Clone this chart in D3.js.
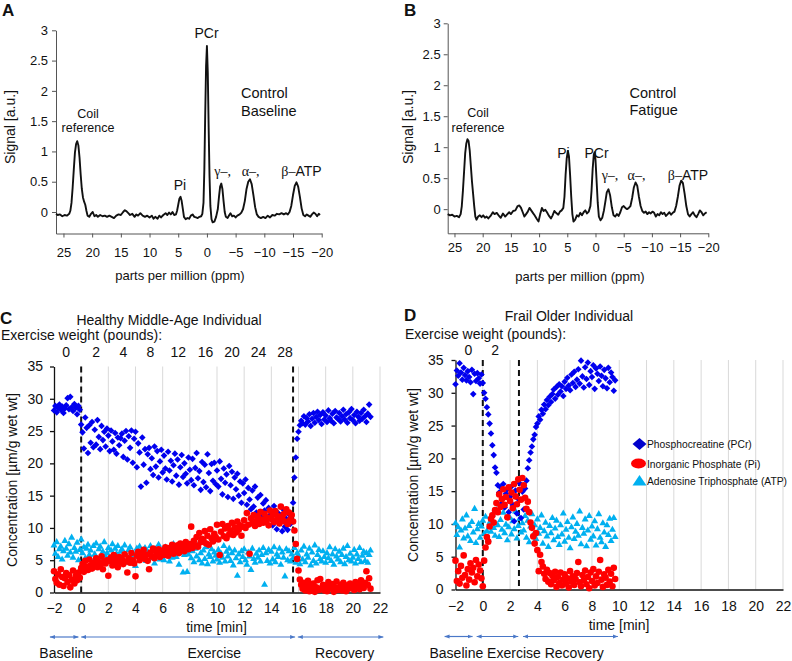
<!DOCTYPE html>
<html><head><meta charset="utf-8">
<script src="https://cdn.jsdelivr.net/npm/d3@7"></script>
<style>
body{margin:0;background:#fff}
svg{display:block}
text{font-family:"Liberation Sans",Arial,sans-serif;fill:#111}
</style></head>
<body><svg id="fig" width="792" height="661"></svg>
<script>
// ---------------- DATA ----------------
// Panel A / B: 31P spectra, [ppm, signal a.u.]
const spectrumA = [[26.3,-0.03],[26.0,-0.05],[25.6,-0.04],[25.2,-0.07],[24.8,-0.05],[24.4,-0.06],[24.0,-0.03],[23.8,0.02],[23.6,0.15],[23.4,0.40],[23.2,0.70],[23.0,0.98],[22.8,1.12],[22.6,1.17],[22.4,1.10],[22.2,0.90],[22.0,0.62],[21.8,0.38],[21.6,0.24],[21.4,0.17],[21.2,0.12],[21.0,0.02],[20.8,-0.06],[20.5,-0.08],[20.2,-0.03],[19.9,0.0],[19.6,-0.07],[19.3,-0.05],[19.0,-0.08],[18.6,-0.05],[18.2,-0.07],[17.8,-0.06],[17.4,-0.08],[17.0,-0.06],[16.6,-0.08],[16.2,-0.10],[15.8,-0.06],[15.4,-0.04],[15.0,-0.05],[14.6,0.0],[14.3,0.03],[14.0,0.01],[13.7,-0.02],[13.4,-0.05],[13.0,-0.03],[12.6,-0.08],[12.3,-0.04],[12.0,-0.06],[11.6,-0.02],[11.2,-0.06],[10.8,-0.08],[10.4,-0.06],[10.0,-0.09],[9.6,-0.06],[9.3,-0.11],[9.0,-0.08],[8.6,-0.11],[8.3,-0.06],[8.0,-0.09],[7.6,-0.05],[7.2,-0.02],[6.9,-0.05],[6.6,-0.01],[6.3,-0.04],[6.0,0.0],[5.7,-0.05],[5.4,-0.04],[5.2,0.02],[5.0,0.12],[4.8,0.22],[4.6,0.25],[4.4,0.18],[4.2,0.05],[4.0,-0.08],[3.7,-0.12],[3.4,-0.10],[3.1,-0.11],[2.8,-0.06],[2.5,-0.04],[2.2,-0.08],[1.9,-0.09],[1.6,-0.10],[1.3,-0.08],[1.0,-0.07],[0.8,-0.03],[0.6,0.15],[0.45,0.7],[0.3,1.6],[0.15,2.4],[0.0,2.74],[-0.15,2.3],[-0.3,1.4],[-0.45,0.6],[-0.6,0.1],[-0.8,-0.12],[-1.0,-0.17],[-1.3,-0.16],[-1.6,-0.08],[-1.9,0.05],[-2.1,0.25],[-2.3,0.42],[-2.5,0.47],[-2.7,0.38],[-2.9,0.18],[-3.1,0.0],[-3.3,-0.08],[-3.6,-0.1],[-3.9,-0.05],[-4.1,-0.02],[-4.4,-0.07],[-4.7,-0.06],[-5.0,-0.09],[-5.3,-0.06],[-5.7,-0.04],[-6.0,-0.01],[-6.3,0.05],[-6.6,0.18],[-6.9,0.38],[-7.2,0.50],[-7.5,0.54],[-7.8,0.46],[-8.1,0.28],[-8.4,0.08],[-8.7,-0.04],[-9.0,-0.08],[-9.4,-0.1],[-9.8,-0.08],[-10.2,-0.1],[-10.6,-0.06],[-11.0,-0.09],[-11.4,-0.05],[-11.8,-0.06],[-12.2,-0.03],[-12.6,-0.04],[-13.0,-0.02],[-13.4,-0.04],[-13.8,-0.02],[-14.1,-0.04],[-14.4,0.0],[-14.7,0.1],[-15.0,0.28],[-15.3,0.43],[-15.6,0.49],[-15.9,0.42],[-16.2,0.25],[-16.5,0.06],[-16.8,-0.05],[-17.1,-0.07],[-17.4,-0.04],[-17.7,-0.06],[-18.0,-0.08],[-18.3,-0.04],[-18.6,-0.01],[-18.9,-0.03],[-19.2,-0.07],[-19.5,-0.03],[-19.7,-0.05]];
const spectrumB = [[26.2,-0.08],[25.8,-0.10],[25.4,-0.09],[25.0,-0.12],[24.6,-0.11],[24.2,-0.13],[23.9,-0.08],[23.7,0.05],[23.5,0.3],[23.3,0.6],[23.1,0.9],[22.9,1.06],[22.7,1.13],[22.5,1.1],[22.3,0.95],[22.1,0.7],[21.9,0.45],[21.7,0.25],[21.5,0.05],[21.3,-0.12],[21.1,-0.17],[20.8,-0.12],[20.5,-0.1],[20.2,-0.13],[19.9,-0.1],[19.6,-0.14],[19.3,-0.12],[19.0,-0.15],[18.6,-0.11],[18.2,-0.05],[17.9,-0.08],[17.5,-0.06],[17.1,-0.11],[16.8,-0.14],[16.4,-0.07],[16.0,-0.12],[15.7,-0.09],[15.3,-0.05],[15.0,-0.08],[14.6,-0.03],[14.2,-0.02],[13.8,0.05],[13.5,0.06],[13.2,0.02],[12.9,-0.05],[12.6,-0.12],[12.3,-0.08],[12.0,-0.04],[11.7,0.02],[11.4,-0.02],[11.1,-0.06],[10.8,-0.1],[10.4,-0.16],[10.1,-0.2],[9.8,-0.08],[9.5,0.02],[9.2,-0.03],[8.9,-0.01],[8.6,-0.05],[8.3,-0.1],[7.9,-0.15],[7.6,-0.1],[7.3,-0.03],[7.0,-0.06],[6.6,-0.09],[6.3,-0.04],[6.0,-0.02],[5.7,0.02],[5.5,0.2],[5.3,0.55],[5.1,0.82],[4.9,0.94],[4.7,0.85],[4.5,0.55],[4.3,0.2],[4.1,-0.08],[3.9,-0.2],[3.6,-0.17],[3.3,-0.1],[3.0,-0.12],[2.7,-0.06],[2.4,-0.1],[2.1,-0.05],[1.8,-0.02],[1.5,-0.07],[1.2,-0.04],[0.9,0.05],[0.7,0.3],[0.5,0.65],[0.3,0.88],[0.15,0.92],[0.0,0.8],[-0.2,0.45],[-0.4,0.1],[-0.6,-0.12],[-0.9,-0.18],[-1.2,-0.14],[-1.5,-0.02],[-1.8,0.15],[-2.0,0.27],[-2.3,0.32],[-2.6,0.22],[-2.9,0.03],[-3.2,-0.1],[-3.5,-0.12],[-3.8,-0.08],[-4.1,-0.11],[-4.4,-0.05],[-4.7,0.03],[-5.0,0.05],[-5.3,0.02],[-5.6,0.0],[-5.9,0.02],[-6.2,0.05],[-6.5,0.18],[-6.8,0.35],[-7.1,0.43],[-7.4,0.38],[-7.7,0.2],[-8.0,0.05],[-8.3,-0.03],[-8.6,-0.06],[-8.9,-0.04],[-9.2,-0.08],[-9.5,-0.05],[-9.8,-0.07],[-10.1,-0.04],[-10.4,-0.06],[-10.7,-0.12],[-11.0,-0.08],[-11.3,-0.1],[-11.6,-0.05],[-11.9,-0.08],[-12.2,-0.06],[-12.5,-0.11],[-12.8,-0.08],[-13.1,-0.05],[-13.4,-0.09],[-13.7,-0.06],[-14.0,-0.04],[-14.3,0.05],[-14.6,0.2],[-14.9,0.38],[-15.2,0.46],[-15.5,0.42],[-15.8,0.25],[-16.1,0.05],[-16.4,-0.08],[-16.7,-0.12],[-17.0,-0.08],[-17.3,-0.05],[-17.6,-0.1],[-17.9,-0.13],[-18.2,-0.08],[-18.5,-0.02],[-18.8,-0.05],[-19.1,-0.1],[-19.4,-0.07],[-19.7,-0.05]];
const ppmTicks = [25,20,15,10,5,0,-5,-10,-15,-20];
const signalTicks = [0,0.5,1,1.5,2,2.5,3];

// Panel C / D: metabolite concentrations sampled every 0.1 min starting at -2 min
const sampleStart = -2, sampleStep = 0.1;
const pcrC = [28.2,28.9,27.9,28.6,29.1,28.3,28.8,27.8,28.5,29.0, 30.1,28.4,30.3,28.7,28.1,29.2,28.6,27.6,28.9,28.3,
 26.0,24.8,22.3,27.1,25.5,21.6,25.9,23.2,26.4,22.5, 25.2,22.9,26.7,24.1,22.2,25.8,23.6,24.9,22.6,25.4,
 24.3,21.9,25.1,23.4,22.1,24.7,21.5,24.0,22.8,23.9, 24.6,21.0,23.5,25.0,20.6,24.2,22.4,25.1,20.1,23.8,
 24.9,19.4,23.1,21.7,16.4,24.0,19.8,22.2,17.0,21.4, 22.4,19.1,20.8,18.2,22.6,19.5,21.9,17.8,20.3,22.1,
 18.6,21.2,19.2,17.5,21.8,18.9,20.4,17.2,19.7,21.5, 18.1,20.6,16.7,19.4,21.3,17.9,20.0,18.4,16.9,20.9,
 19.0,17.4,20.7,16.6,19.3,21.6,17.7,18.8,15.9,20.2, 17.1,19.8,16.3,21.4,18.5,15.7,19.9,17.3,20.1,16.8,
 18.9,16.4,20.3,17.6,15.2,19.2,17.0,18.3,14.8,19.6, 16.6,18.7,14.5,17.8,16.0,18.4,15.0,17.2,13.9,16.9,
 15.4,17.5,13.6,16.2,14.4,12.9,15.8,13.3,16.4,12.4, 14.7,12.1,15.1,11.6,13.8,12.7,14.3,11.2,13.1,12.0,
 12.6,10.4,13.4,11.0,9.8,12.3,10.7,11.9,9.5,12.8, 10.2,11.4,9.7,12.1,10.6,11.1,13.9,17.8,20.9,23.8,
 24.9,25.9,26.6,26.2,27.3,26.0,27.0,26.5,27.6,25.8, 26.9,27.8,26.3,27.2,28.0,26.7,27.5,26.1,27.9,26.8,
 27.4,26.4,28.2,27.0,26.6,27.7,26.2,28.1,27.1,26.9, 27.8,26.5,27.3,28.3,26.8,27.6,26.3,27.9,27.0,28.4,
 26.7,27.5,26.2,28.0,27.2,26.6,27.8,26.9,28.3,27.3, 26.4,27.7,29.1,27.2];
const piC = [3.3,2.1,1.5,2.8,1.2,3.6,2.4,1.0,2.2,3.0, 1.6,2.7,0.8,2.0,3.4,1.4,2.6,1.9,3.1,2.3,
 3.8,4.4,3.2,4.9,4.0,3.5,5.1,4.2,3.7,4.6, 4.1,5.3,3.9,4.7,4.3,5.6,3.6,4.8,4.5,5.0,
 2.6,4.9,5.4,4.2,5.8,4.6,5.2,3.9,5.5,4.7, 5.1,4.4,5.9,4.8,3.1,5.3,4.6,6.1,5.0,4.5,
 2.5,5.7,6.3,5.0,6.0,5.4,6.6,5.2,5.8,4.9, 3.6,6.2,5.6,6.8,5.3,6.4,5.9,6.7,5.5,6.1,
 6.5,5.8,7.0,6.2,5.7,6.9,6.3,7.4,6.0,6.6, 6.8,7.3,6.1,7.6,6.9,7.1,6.4,7.8,7.0,6.7,
 7.5,10.2,6.9,8.0,7.3,8.6,7.1,9.2,7.8,8.3, 8.1,9.5,7.6,8.8,7.4,9.8,8.4,7.9,9.1,8.6,
 10.5,8.2,5.8,9.4,10.6,8.7,9.9,8.4,10.3,9.0, 9.6,10.8,8.9,10.1,9.3,11.0,9.7,10.4,8.8,10.2,
 11.2,10.0,12.3,10.5,6.0,11.5,10.7,12.0,10.3,11.1, 11.8,10.6,12.5,11.3,10.8,12.2,11.0,11.6,10.4,12.7,
 11.4,12.0,10.9,12.6,11.2,11.8,10.7,13.3,11.5,12.1, 11.0,12.9,10.6,12.4,11.3,12.0,11.0,9.6,7.5,5.2,
 3.4,2.0,1.2,0.6,1.5,0.3,0.9,1.8,0.2,1.1, 0.5,1.4,0.1,0.8,1.9,0.4,2.1,0.7,1.2,0.3,
 1.0,0.2,1.6,0.6,0.9,1.3,0.1,0.8,1.7,0.4, 0.7,1.2,0.3,1.5,0.9,0.2,1.1,0.6,1.4,0.8,
 1.0,0.4,1.6,0.9,1.3,0.5,1.9,1.1,0.7,1.5, 3.3,1.2,2.2,0.6];
const atpC = [7.4,6.1,7.9,5.6,6.8,7.2,5.2,6.5,8.1,6.9, 5.8,7.6,6.3,8.6,5.5,7.0,6.4,7.8,5.1,6.7,
 8.3,6.2,7.1,5.4,6.9,7.5,5.9,6.6,4.8,7.3, 6.0,7.7,5.3,6.8,7.2,4.9,6.4,7.9,5.7,6.2,
 7.0,5.5,6.6,7.6,5.0,6.9,6.1,7.3,5.6,6.4, 6.8,5.2,7.4,6.0,4.7,6.7,7.1,5.4,6.3,5.8,
 4.2,6.9,5.7,7.2,6.1,5.3,6.6,7.0,5.0,6.4, 5.9,7.3,5.4,6.5,4.6,6.8,6.0,7.5,5.2,6.2,
 6.7,5.1,7.1,5.8,6.4,4.9,6.9,5.5,7.6,6.1, 5.6,6.8,4.4,6.3,7.2,3.2,5.9,6.6,3.3,6.0,
 7.0,5.4,6.5,4.8,6.9,5.7,7.4,5.1,6.2,4.6, 6.6,5.3,7.1,4.5,6.0,5.6,6.8,4.9,6.3,5.8,
 5.2,6.7,4.7,6.1,5.5,7.3,4.9,6.4,5.7,6.9, 5.0,6.2,4.3,6.6,5.4,2.7,6.0,4.8,6.5,5.6,
 6.8,5.1,4.4,6.3,5.7,3.6,6.9,5.3,4.7,6.1, 5.5,6.6,4.9,5.9,7.0,1.3,6.2,5.0,6.7,4.6,
 6.4,5.2,7.1,4.8,6.0,5.6,6.9,4.4,6.3,5.5, 2.6,6.8,5.1,6.5,4.9,6.0,5.4,7.0,4.7,6.2,
 5.8,4.5,6.6,5.2,7.2,4.8,6.0,5.5,6.9,4.3, 6.3,5.0,7.4,4.6,5.9,6.7,5.3,4.9,6.5,5.6,
 4.7,6.2,5.4,7.1,5.0,6.0,4.4,6.8,5.7,5.2, 6.4,4.8,5.9,6.9,4.5,5.6,7.3,5.1,6.1,4.9,
 5.5,6.7,4.6,6.0,5.3,7.0,4.8,5.8,6.4,5.0, 6.2,4.7,5.9,6.6];
const pcrD = [31.3,33.4,32.6,34.5,33.1,32.0,33.8,32.7,31.9,33.3, 32.4,31.6,33.5,29.8,32.9,31.8,33.0,32.2,31.4,32.8,
 31.5,30.0,29.1,27.8,26.7,25.3,23.8,22.0,20.5,18.6, 17.8,15.9,14.8,15.6,13.2,16.1,12.5,14.6,15.3,11.8,
 14.2,15.7,12.9,10.4,15.1,11.6,13.8,16.2,10.9,14.9, 12.2,15.4,16.6,18.5,19.7,20.9,21.8,22.9,23.6,24.8,
 25.3,26.4,25.9,27.4,26.8,28.2,27.5,28.9,28.1,29.4, 28.6,29.8,30.5,29.1,30.9,29.7,31.3,30.2,31.0,29.5,
 31.7,30.6,32.3,31.1,30.4,32.8,31.5,33.2,30.9,32.0, 33.6,31.4,34.9,32.5,30.8,33.9,32.1,34.6,31.2,33.3,
 32.4,34.2,30.6,33.7,32.9,31.8,34.0,32.6,31.0,33.5, 32.2,30.7,33.8,31.6,33.1,32.4,30.3,31.9];
const piD = [4.4,1.3,2.8,0.9,3.6,1.8,5.2,2.2,0.6,3.1, 1.5,4.0,2.6,3.3,1.1,4.5,2.0,3.8,2.9,1.7,
 0.5,4.4,6.4,8.0,7.3,9.6,10.8,11.3,10.2,12.1, 13.2,11.8,14.5,12.6,13.8,15.3,12.9,14.1,11.0,15.6,
 13.5,14.8,12.4,16.1,14.2,13.0,16.8,15.2,13.7,17.0, 15.9,14.0,12.3,13.4,11.8,10.2,9.4,8.1,7.0,8.6,
 6.0,2.8,5.3,4.2,3.5,2.4,1.6,3.0,1.2,2.5, 0.8,2.1,1.4,2.7,0.4,1.9,1.0,2.6,0.6,1.5,
 2.3,0.9,1.7,0.3,2.8,1.2,2.0,0.7,1.6,2.5, 4.2,1.1,0.5,2.2,1.4,2.9,0.8,1.9,0.2,2.6,
 1.3,3.1,0.6,2.0,1.0,2.7,4.5,1.5,0.4,2.3, 1.8,0.7,3.0,1.2,2.4,0.5,3.3,1.6];
const atpD = [10.2,8.4,9.6,6.5,9.1,10.8,7.9,9.4,11.4,8.2, 9.8,7.5,10.4,8.8,12.4,7.2,9.3,10.1,8.0,9.7,
 10.6,8.6,11.2,9.0,7.7,10.3,8.9,11.5,9.5,8.3, 12.2,9.9,8.1,10.7,9.2,11.8,8.7,10.0,7.6,9.6,
 11.0,8.5,10.5,9.3,12.0,7.9,9.8,10.9,8.8,10.2, 9.1,11.3,8.0,10.6,7.3,9.7,11.6,8.4,9.9,7.8,
 10.8,8.6,9.5,11.4,7.1,9.0,10.3,8.2,6.6,9.8, 8.7,11.0,7.6,9.4,10.6,8.1,6.9,9.9,8.5,11.7,
 7.4,9.2,10.4,8.0,6.4,9.6,11.1,7.8,8.9,10.1, 8.3,12.0,7.0,9.5,8.6,10.8,6.7,9.1,11.3,7.7,
 9.7,8.2,10.5,6.8,9.3,11.6,8.0,7.3,10.2,8.8, 6.6,9.9,8.4,10.9,7.5,9.2,11.0,8.1];
const timeTicks = [-2,0,2,4,6,8,10,12,14,16,18,20,22];
const concTicks = [0,5,10,15,20,25,30,35];
const exerciseStartC = 0, exerciseEndC = 15.6;
const exerciseStartD = 0, exerciseEndD = 2.65;
const weightLabelsC = ["0","2","4","8","12","16","20","24","28"];
const weightTimesC = [-1.1,1.1,3.1,5.1,7.15,9.15,11.1,13.05,15.0];
const weightLabelsD = ["0","2"];
const weightTimesD = [-1.05,0.9];
const phaseSegmentsC = [[-2.3,-0.2],[0.0,15.75],[15.95,22.25]];
const phaseSegmentsD = [[-2.8,-0.75],[-0.45,2.6],[2.95,9.9]];
const phaseLabelsC = ["Baseline","Exercise","Recovery"];
const phaseLabelTimesC = [-1.1,9.8,19.4];
const seriesNames = ["Phosphocreatine (PCr)","Inorganic Phosphate (Pi)","Adenosine Triphosphate (ATP)"];

// ---------------- DRAW ----------------
const svg = d3.select("#fig");
const SERIF = '"Liberation Serif","Times New Roman",serif';
const COL = {pcr:"#0000ee", pi:"#ff0000", atp:"#00b0f0", arrow:"#4a78c8"};

function txt(x, y, s, size, anchor, extra) {
  const t = svg.append("text").attr("x", x).attr("y", y).attr("font-size", size)
    .attr("text-anchor", anchor || "start").text(s);
  if (extra) extra(t);
  return t;
}
function vtxt(x, y, s, size) {
  svg.append("text").attr("transform", `translate(${x},${y}) rotate(-90)`)
    .attr("text-anchor", "middle").attr("dominant-baseline", "central")
    .attr("font-size", size).text(s);
}
function letter(x, y, s) { txt(x, y, s, 17, "start", t => t.attr("font-weight", 900)); }

// ---- Spectrum panels ----
function spectrumPanel(cfg) {
  const x = d3.scaleLinear().domain(cfg.xd).range(cfg.xr);
  const y = d3.scaleLinear().domain(cfg.yd).range(cfg.yr);
  const g = svg.append("g");
  const ax = g.append("g").attr("transform", `translate(${cfg.xr[0]},0)`)
    .call(d3.axisLeft(y).tickValues(signalTicks).tickSize(4).tickSizeOuter(0).tickPadding(cfg.ypad).tickFormat(d => d));
  const bx = g.append("g").attr("transform", `translate(0,${cfg.yr[0]})`)
    .call(d3.axisBottom(x).tickValues(ppmTicks).tickSize(4).tickSizeOuter(0).tickPadding(cfg.xpad));
  [ax, bx].forEach(a => {
    a.selectAll("path,line").attr("stroke", "#555");
    a.selectAll("text").attr("font-size", 13).attr("font-family", '"Liberation Sans",Arial,sans-serif').attr("fill", "#111");
  });
  g.append("path").datum(cfg.data)
    .attr("d", d3.line().x(d => x(d[0])).y(d => y(d[1])))
    .attr("fill", "none").attr("stroke", "#111").attr("stroke-width", 1.9).attr("stroke-linejoin", "round");
  return {x, y};
}
spectrumPanel({data: spectrumA, xd: [26.3, -20], xr: [56, 321.7], yd: [-0.355, 3], yr: [233.5, 30.3], ypad: 4, xpad: 10});
spectrumPanel({data: spectrumB, xd: [26.2, -20], xr: [447.7, 708.3], yd: [-0.39, 3], yr: [233.3, 23.3], ypad: 3, xpad: 5});

letter(2, 16, "A");
letter(404, 16, "B");
vtxt(10, 127, "Signal [a.u.]", 14);
vtxt(408, 127, "Signal [a.u.]", 14);
txt(180, 280, "parts per million (ppm)", 13, "middle");
txt(580, 281, "parts per million (ppm)", 13, "middle");

// annotations A
txt(206.5, 38, "PCr", 14, "middle");
txt(88, 118, "Coil", 12.5, "middle");
txt(88, 132, "reference", 12.5, "middle");
txt(180, 190, "Pi", 14, "middle");
txt(241, 98, "Control", 14.5);
txt(241, 116, "Baseline", 14.5);
function greek(x, y, g, rest) {
  const t = svg.append("text").attr("x", x).attr("y", y).attr("font-size", 14).attr("text-anchor", "middle");
  t.append("tspan").attr("font-family", SERIF).text(g);
  if (rest) t.append("tspan").text(rest);
}
greek(222.7, 176, "γ–,");
greek(250.7, 176, "α–,");
greek(301.5, 176, "β–", "ATP");
// annotations B
txt(478, 117, "Coil", 12.5, "middle");
txt(478, 132, "reference", 12.5, "middle");
txt(563.5, 158, "Pi", 14, "middle");
txt(596.5, 158, "PCr", 14, "middle");
txt(629.5, 98, "Control", 14.5);
txt(629.5, 115, "Fatigue", 14.5);
greek(610, 180, "γ–,");
greek(636.5, 180, "α–,");
greek(688, 180, "β–", "ATP");

// ---- Concentration panels ----
const diamond = "M0,-3.3L3.3,0L0,3.3L-3.3,0Z";
const triangle = "M0,-3.4L3.5,2.7L-3.5,2.7Z";

function concPanel(cfg) {
  const x = d3.scaleLinear().domain([-2, 22]).range(cfg.xr);
  const y = d3.scaleLinear().domain([0, 35]).range(cfg.yr);
  const g = svg.append("g");
  g.append("g").selectAll("line").data(timeTicks.filter(t => t > -2)).join("line")
    .attr("x1", d => x(d)).attr("x2", d => x(d)).attr("y1", y(35)).attr("y2", y(0))
    .attr("stroke", "#d9d9d9").attr("stroke-width", 1);
  const ay = g.append("g").attr("transform", `translate(${cfg.xr[0]},0)`)
    .call(d3.axisLeft(y).tickValues(concTicks).tickSize(4).tickSizeOuter(0).tickPadding(cfg.ypad));
  const ax = g.append("g").attr("transform", `translate(0,${cfg.yr[0]})`)
    .call(d3.axisBottom(x).tickValues(timeTicks).tickSize(0).tickSizeOuter(0).tickPadding(cfg.xpad));
  [ay, ax].forEach(a => {
    a.selectAll("path,line").attr("stroke", "#111").attr("stroke-width", 1.3);
    a.selectAll("text").attr("font-size", 14).attr("font-family", '"Liberation Sans",Arial,sans-serif').attr("fill", "#111");
  });
  g.selectAll(".dash").data(cfg.dashes).join("line")
    .attr("x1", d => x(d)).attr("x2", d => x(d)).attr("y1", y(35)).attr("y2", y(0))
    .attr("stroke", "#111").attr("stroke-width", 2).attr("stroke-dasharray", "6,4");
  const T = i => sampleStart + i * sampleStep;
  g.append("g").selectAll("path").data(cfg.atp).join("path")
    .attr("d", triangle).attr("fill", COL.atp)
    .attr("transform", (d, i) => `translate(${x(T(i))},${y(d)})`);
  g.append("g").selectAll("path").data(cfg.pcr).join("path")
    .attr("d", diamond).attr("fill", COL.pcr)
    .attr("transform", (d, i) => `translate(${x(T(i))},${y(d)})`);
  g.append("g").selectAll("circle").data(cfg.pi).join("circle")
    .attr("cx", (d, i) => x(T(i))).attr("cy", d => y(d)).attr("r", 3.3).attr("fill", COL.pi);
  cfg.wl.forEach((w, i) => txt(x(cfg.wt[i]), cfg.wy, w, 14, "middle"));
  cfg.seg.forEach(s => {
    g.append("line").attr("x1", x(s[0])).attr("x2", x(s[1])).attr("y1", cfg.ay).attr("y2", cfg.ay)
      .attr("stroke", COL.arrow).attr("stroke-width", 1.2)
      .attr("marker-start", "url(#ah)").attr("marker-end", "url(#ah)");
  });
  return {x, y};
}

svg.append("defs").append("marker").attr("id", "ah").attr("viewBox", "0 0 10 10")
  .attr("refX", 10).attr("refY", 5).attr("markerWidth", 5).attr("markerHeight", 5)
  .attr("markerUnits", "userSpaceOnUse").attr("orient", "auto-start-reverse")
  .append("path").attr("d", "M0,1L10,5L0,9Z").attr("fill", COL.arrow);

const pc = concPanel({xr: [54, 380], yr: [592.5, 366.5], ypad: 7, xpad: 11,
  pcr: pcrC, pi: piC, atp: atpC, dashes: [exerciseStartC, exerciseEndC],
  wl: weightLabelsC, wt: weightTimesC, wy: 357, seg: phaseSegmentsC, ay: 637});
const pd = concPanel({xr: [455.5, 783], yr: [589.5, 360], ypad: 8, xpad: 12,
  pcr: pcrD, pi: piD, atp: atpD, dashes: [exerciseStartD, exerciseEndD],
  wl: weightLabelsD, wt: weightTimesD, wy: 354.5, seg: phaseSegmentsD, ay: 636.5});

letter(0, 324, "C");
letter(404, 321, "D");
txt(169, 325, "Healthy Middle-Age Individual", 14, "middle");
txt(569, 321, "Frail Older Individual", 14, "middle");
txt(1, 340, "Exercise weight (pounds):", 14);
txt(405, 338.5, "Exercise weight (pounds):", 14);
vtxt(12, 480, "Concentration [µm/g wet wt]", 14);
vtxt(413, 475, "Concentration [µm/g wet wt]", 14);
txt(216.5, 631.5, "time [min]", 14, "middle");
txt(619, 630, "time [min]", 14, "middle");
phaseLabelsC.forEach((p, i) => txt(pc.x(phaseLabelTimesC[i]), 657.5, p, 14, "middle"));
txt(429.5, 658, "Baseline Exercise Recovery", 14);

// legend (panel D)
const lg = svg.append("g");
const lx = 639.5, ly = [444, 463.5, 480.5];
lg.append("path").attr("d", "M0,-6L7,0L0,6L-7,0Z").attr("fill", "#0000cc").attr("transform", `translate(${lx},${ly[0]})`);
lg.append("ellipse").attr("cx", lx - 1).attr("cy", ly[1]).attr("rx", 7.5).attr("ry", 5).attr("fill", COL.pi);
lg.append("path").attr("d", "M0,-5.5L7,5L-7,5Z").attr("fill", COL.atp).attr("transform", `translate(${lx},${ly[2]})`);
seriesNames.forEach((s, i) => txt(647, ly[i] + 4, s, 10.3));
</script>
</body></html>
